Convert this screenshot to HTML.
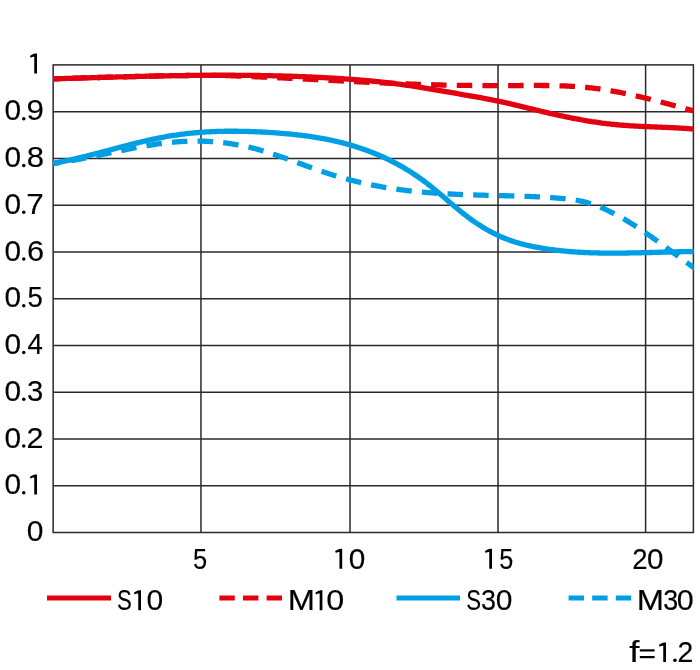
<!DOCTYPE html>
<html><head><meta charset="utf-8"><style>
html,body{margin:0;padding:0;background:#fff;width:700px;height:670px;overflow:hidden}
svg{display:block;will-change:transform}
text{font-family:"Liberation Sans",sans-serif;font-size:29.0px;fill:#000;stroke:#000;stroke-width:0.15px}
</style></head><body>
<svg width="700" height="670" viewBox="0 0 700 670">
<defs><clipPath id="c"><rect x="53.15" y="0" width="640.55" height="670"/></clipPath></defs>
<g stroke="#2a2a2a" stroke-width="1.5" fill="none">
<line x1="200.96" y1="64.90" x2="200.96" y2="532.50"/>
<line x1="350.04" y1="64.90" x2="350.04" y2="532.50"/>
<line x1="498.04" y1="64.90" x2="498.04" y2="532.50"/>
<line x1="645.60" y1="64.90" x2="645.60" y2="532.50"/>
<line x1="53.15" y1="111.66" x2="693.40" y2="111.66"/>
<line x1="53.15" y1="158.42" x2="693.40" y2="158.42"/>
<line x1="53.15" y1="205.18" x2="693.40" y2="205.18"/>
<line x1="53.15" y1="251.94" x2="693.40" y2="251.94"/>
<line x1="53.15" y1="298.70" x2="693.40" y2="298.70"/>
<line x1="53.15" y1="345.46" x2="693.40" y2="345.46"/>
<line x1="53.15" y1="392.22" x2="693.40" y2="392.22"/>
<line x1="53.15" y1="438.98" x2="693.40" y2="438.98"/>
<line x1="53.15" y1="485.74" x2="693.40" y2="485.74"/>
<rect x="53.15" y="64.90" width="640.25" height="467.60" fill="none"/>
</g>
<g fill="none" stroke-width="5.3" clip-path="url(#c)">
<path d="M53.00,163.45 L54.50,163.25 L56.00,163.05 L57.50,162.85 L59.00,162.63 L60.50,162.41 L62.00,162.19 L63.50,161.96 L65.00,161.72 L66.50,161.48 L68.00,161.23 L69.50,160.98 L71.00,160.72 L72.50,160.46 L74.00,160.19 L75.50,159.92 L77.00,159.65 L78.50,159.37 L80.00,159.08 L81.50,158.80 L83.00,158.51 L84.50,158.21 L86.00,157.92 L87.50,157.62 L89.00,157.32 L90.50,157.02 L92.00,156.71 L93.50,156.40 L95.00,156.09 L96.50,155.78 L98.00,155.47 L99.50,155.15 L101.00,154.84 L102.50,154.52 L104.00,154.20 L105.50,153.89 L107.00,153.57 L108.50,153.25 L110.00,152.93 L111.50,152.62 L113.00,152.30 L114.50,151.98 L116.00,151.67 L117.50,151.35 L119.00,151.04 L120.50,150.73 L122.00,150.42 L123.50,150.11 L125.00,149.80 L126.50,149.50 L128.00,149.20 L129.50,148.90 L131.00,148.60 L132.50,148.31 L134.00,148.01 L135.50,147.73 L137.00,147.44 L138.50,147.16 L140.00,146.89 L141.50,146.61 L143.00,146.35 L144.50,146.08 L146.00,145.82 L147.50,145.57 L149.00,145.32 L150.50,145.08 L152.00,144.84 L153.50,144.60 L155.00,144.38 L156.50,144.16 L158.00,143.94 L159.50,143.73 L161.00,143.53 L162.50,143.33 L164.00,143.15 L165.50,142.96 L167.00,142.79 L168.50,142.62 L170.00,142.46 L171.50,142.31 L173.00,142.17 L174.50,142.04 L176.00,141.91 L177.50,141.79 L179.00,141.68 L180.50,141.58 L182.00,141.49 L183.50,141.41 L185.00,141.34 L186.50,141.28 L188.00,141.22 L189.50,141.18 L191.00,141.14 L192.50,141.11 L194.00,141.10 L195.50,141.09 L197.00,141.09 L198.50,141.10 L200.00,141.12 L201.50,141.15 L203.00,141.19 L204.50,141.24 L206.00,141.30 L207.50,141.37 L209.00,141.45 L210.50,141.54 L212.00,141.63 L213.50,141.74 L215.00,141.86 L216.50,141.98 L218.00,142.12 L219.50,142.26 L221.00,142.42 L222.50,142.59 L224.00,142.76 L225.50,142.95 L227.00,143.14 L228.50,143.35 L230.00,143.56 L231.50,143.79 L233.00,144.02 L234.50,144.27 L236.00,144.52 L237.50,144.79 L239.00,145.06 L240.50,145.35 L242.00,145.65 L243.50,145.95 L245.00,146.27 L246.50,146.60 L248.00,146.93 L249.50,147.28 L251.00,147.64 L252.50,148.01 L254.00,148.38 L255.50,148.77 L257.00,149.17 L258.50,149.58 L260.00,150.00 L261.50,150.43 L263.00,150.87 L264.50,151.32 L266.00,151.77 L267.50,152.24 L269.00,152.71 L270.50,153.19 L272.00,153.67 L273.50,154.16 L275.00,154.66 L276.50,155.17 L278.00,155.68 L279.50,156.19 L281.00,156.71 L282.50,157.24 L284.00,157.77 L285.50,158.30 L287.00,158.84 L288.50,159.37 L290.00,159.92 L291.50,160.46 L293.00,161.01 L294.50,161.55 L296.00,162.10 L297.50,162.65 L299.00,163.20 L300.50,163.76 L302.00,164.31 L303.50,164.86 L305.00,165.41 L306.50,165.95 L308.00,166.50 L309.50,167.05 L311.00,167.59 L312.50,168.13 L314.00,168.66 L315.50,169.20 L317.00,169.73 L318.50,170.25 L320.00,170.77 L321.50,171.29 L323.00,171.80 L324.50,172.31 L326.00,172.81 L327.50,173.30 L329.00,173.79 L330.50,174.27 L332.00,174.74 L333.50,175.20 L335.00,175.66 L336.50,176.12 L338.00,176.56 L339.50,177.00 L341.00,177.43 L342.50,177.86 L344.00,178.28 L345.50,178.69 L347.00,179.10 L348.50,179.50 L350.00,179.89 L351.50,180.28 L353.00,180.66 L354.50,181.04 L356.00,181.41 L357.50,181.77 L359.00,182.12 L360.50,182.47 L362.00,182.82 L363.50,183.16 L365.00,183.49 L366.50,183.81 L368.00,184.13 L369.50,184.45 L371.00,184.76 L372.50,185.06 L374.00,185.36 L375.50,185.65 L377.00,185.93 L378.50,186.21 L380.00,186.49 L381.50,186.76 L383.00,187.02 L384.50,187.28 L386.00,187.53 L387.50,187.78 L389.00,188.02 L390.50,188.26 L392.00,188.49 L393.50,188.71 L395.00,188.94 L396.50,189.15 L398.00,189.36 L399.50,189.57 L401.00,189.77 L402.50,189.96 L404.00,190.15 L405.50,190.34 L407.00,190.52 L408.50,190.70 L410.00,190.87 L411.50,191.04 L413.00,191.20 L414.50,191.36 L416.00,191.51 L417.50,191.66 L419.00,191.80 L420.50,191.94 L422.00,192.08 L423.50,192.21 L425.00,192.34 L426.50,192.47 L428.00,192.59 L429.50,192.71 L431.00,192.82 L432.50,192.93 L434.00,193.04 L435.50,193.15 L437.00,193.25 L438.50,193.34 L440.00,193.44 L441.50,193.53 L443.00,193.62 L444.50,193.71 L446.00,193.79 L447.50,193.87 L449.00,193.95 L450.50,194.02 L452.00,194.10 L453.50,194.17 L455.00,194.24 L456.50,194.30 L458.00,194.37 L459.50,194.43 L461.00,194.49 L462.50,194.55 L464.00,194.60 L465.50,194.66 L467.00,194.71 L468.50,194.76 L470.00,194.81 L471.50,194.86 L473.00,194.91 L474.50,194.95 L476.00,195.00 L477.50,195.04 L479.00,195.08 L480.50,195.12 L482.00,195.16 L483.50,195.20 L485.00,195.24 L486.50,195.28 L488.00,195.32 L489.50,195.36 L491.00,195.40 L492.50,195.43 L494.00,195.47 L495.50,195.51 L497.00,195.54 L498.50,195.58 L500.00,195.62 L501.50,195.65 L503.00,195.69 L504.50,195.73 L506.00,195.76 L507.50,195.80 L509.00,195.84 L510.50,195.88 L512.00,195.92 L513.50,195.96 L515.00,196.01 L516.50,196.05 L518.00,196.09 L519.50,196.14 L521.00,196.19 L522.50,196.24 L524.00,196.29 L525.50,196.34 L527.00,196.39 L528.50,196.45 L530.00,196.51 L531.50,196.57 L533.00,196.63 L534.50,196.70 L536.00,196.76 L537.50,196.83 L539.00,196.91 L540.50,196.98 L542.00,197.06 L543.50,197.14 L545.00,197.23 L546.50,197.31 L548.00,197.40 L549.50,197.50 L551.00,197.60 L552.50,197.70 L554.00,197.80 L555.50,197.91 L557.00,198.03 L558.50,198.14 L560.00,198.27 L561.50,198.39 L563.00,198.53 L564.50,198.67 L566.00,198.82 L567.50,198.98 L569.00,199.16 L570.50,199.34 L572.00,199.54 L573.50,199.76 L575.00,199.99 L576.50,200.24 L578.00,200.51 L579.50,200.80 L581.00,201.11 L582.50,201.45 L584.00,201.81 L585.50,202.19 L587.00,202.59 L588.50,203.02 L590.00,203.47 L591.50,203.95 L593.00,204.45 L594.50,204.97 L596.00,205.51 L597.50,206.07 L599.00,206.65 L600.50,207.25 L602.00,207.88 L603.50,208.52 L605.00,209.18 L606.50,209.86 L608.00,210.56 L609.50,211.28 L611.00,212.01 L612.50,212.76 L614.00,213.53 L615.50,214.31 L617.00,215.11 L618.50,215.93 L620.00,216.76 L621.50,217.60 L623.00,218.46 L624.50,219.33 L626.00,220.22 L627.50,221.12 L629.00,222.03 L630.50,222.95 L632.00,223.89 L633.50,224.84 L635.00,225.79 L636.50,226.76 L638.00,227.74 L639.50,228.73 L641.00,229.73 L642.50,230.73 L644.00,231.75 L645.50,232.77 L647.00,233.81 L648.50,234.84 L650.00,235.89 L651.50,236.94 L653.00,238.00 L654.50,239.07 L656.00,240.14 L657.50,241.21 L659.00,242.29 L660.50,243.37 L662.00,244.46 L663.50,245.55 L665.00,246.64 L666.50,247.74 L668.00,248.84 L669.50,249.94 L671.00,251.04 L672.50,252.14 L674.00,253.24 L675.50,254.35 L677.00,255.45 L678.50,256.55 L680.00,257.65 L681.50,258.75 L683.00,259.85 L684.50,260.94 L686.00,262.03 L687.50,263.12 L689.00,264.21 L690.50,265.29 L692.00,266.37 L693.50,267.44 L695.00,268.51 L696.50,269.57 L698.00,270.62 L699.50,271.67" stroke="#009fe3" stroke-dasharray="15.5 10.18" stroke-dashoffset="7.54"/>
<path d="M53.00,163.36 L54.50,163.09 L56.00,162.82 L57.50,162.54 L59.00,162.26 L60.50,161.97 L62.00,161.67 L63.50,161.36 L65.00,161.05 L66.50,160.74 L68.00,160.41 L69.50,160.09 L71.00,159.76 L72.50,159.42 L74.00,159.08 L75.50,158.73 L77.00,158.38 L78.50,158.03 L80.00,157.67 L81.50,157.30 L83.00,156.94 L84.50,156.57 L86.00,156.20 L87.50,155.82 L89.00,155.44 L90.50,155.06 L92.00,154.68 L93.50,154.29 L95.00,153.90 L96.50,153.51 L98.00,153.12 L99.50,152.72 L101.00,152.33 L102.50,151.93 L104.00,151.54 L105.50,151.14 L107.00,150.74 L108.50,150.34 L110.00,149.94 L111.50,149.54 L113.00,149.14 L114.50,148.75 L116.00,148.35 L117.50,147.95 L119.00,147.55 L120.50,147.16 L122.00,146.76 L123.50,146.37 L125.00,145.98 L126.50,145.59 L128.00,145.20 L129.50,144.82 L131.00,144.44 L132.50,144.06 L134.00,143.68 L135.50,143.31 L137.00,142.94 L138.50,142.57 L140.00,142.20 L141.50,141.84 L143.00,141.49 L144.50,141.14 L146.00,140.79 L147.50,140.44 L149.00,140.11 L150.50,139.77 L152.00,139.44 L153.50,139.12 L155.00,138.80 L156.50,138.49 L158.00,138.18 L159.50,137.88 L161.00,137.59 L162.50,137.30 L164.00,137.02 L165.50,136.74 L167.00,136.48 L168.50,136.22 L170.00,135.96 L171.50,135.72 L173.00,135.48 L174.50,135.25 L176.00,135.02 L177.50,134.81 L179.00,134.60 L180.50,134.40 L182.00,134.20 L183.50,134.01 L185.00,133.83 L186.50,133.66 L188.00,133.49 L189.50,133.33 L191.00,133.17 L192.50,133.02 L194.00,132.88 L195.50,132.75 L197.00,132.62 L198.50,132.50 L200.00,132.38 L201.50,132.27 L203.00,132.17 L204.50,132.07 L206.00,131.97 L207.50,131.89 L209.00,131.81 L210.50,131.73 L212.00,131.66 L213.50,131.60 L215.00,131.54 L216.50,131.48 L218.00,131.44 L219.50,131.39 L221.00,131.36 L222.50,131.32 L224.00,131.30 L225.50,131.27 L227.00,131.25 L228.50,131.24 L230.00,131.23 L231.50,131.23 L233.00,131.23 L234.50,131.24 L236.00,131.25 L237.50,131.26 L239.00,131.28 L240.50,131.30 L242.00,131.33 L243.50,131.36 L245.00,131.39 L246.50,131.43 L248.00,131.48 L249.50,131.52 L251.00,131.57 L252.50,131.63 L254.00,131.69 L255.50,131.75 L257.00,131.81 L258.50,131.88 L260.00,131.95 L261.50,132.02 L263.00,132.10 L264.50,132.18 L266.00,132.27 L267.50,132.35 L269.00,132.44 L270.50,132.54 L272.00,132.63 L273.50,132.73 L275.00,132.83 L276.50,132.94 L278.00,133.05 L279.50,133.16 L281.00,133.28 L282.50,133.40 L284.00,133.52 L285.50,133.65 L287.00,133.78 L288.50,133.92 L290.00,134.06 L291.50,134.21 L293.00,134.36 L294.50,134.52 L296.00,134.68 L297.50,134.84 L299.00,135.02 L300.50,135.19 L302.00,135.38 L303.50,135.57 L305.00,135.76 L306.50,135.96 L308.00,136.17 L309.50,136.38 L311.00,136.60 L312.50,136.83 L314.00,137.06 L315.50,137.30 L317.00,137.54 L318.50,137.80 L320.00,138.06 L321.50,138.32 L323.00,138.60 L324.50,138.88 L326.00,139.17 L327.50,139.47 L329.00,139.77 L330.50,140.08 L332.00,140.40 L333.50,140.73 L335.00,141.07 L336.50,141.42 L338.00,141.77 L339.50,142.13 L341.00,142.51 L342.50,142.89 L344.00,143.28 L345.50,143.68 L347.00,144.09 L348.50,144.50 L350.00,144.93 L351.50,145.37 L353.00,145.82 L354.50,146.27 L356.00,146.74 L357.50,147.22 L359.00,147.71 L360.50,148.21 L362.00,148.72 L363.50,149.24 L365.00,149.77 L366.50,150.31 L368.00,150.86 L369.50,151.42 L371.00,152.00 L372.50,152.59 L374.00,153.19 L375.50,153.80 L377.00,154.42 L378.50,155.05 L380.00,155.70 L381.50,156.36 L383.00,157.03 L384.50,157.71 L386.00,158.41 L387.50,159.12 L389.00,159.85 L390.50,160.59 L392.00,161.34 L393.50,162.11 L395.00,162.89 L396.50,163.69 L398.00,164.50 L399.50,165.32 L401.00,166.16 L402.50,167.02 L404.00,167.89 L405.50,168.78 L407.00,169.69 L408.50,170.61 L410.00,171.55 L411.50,172.50 L413.00,173.47 L414.50,174.46 L416.00,175.46 L417.50,176.49 L419.00,177.53 L420.50,178.59 L422.00,179.66 L423.50,180.76 L425.00,181.87 L426.50,183.01 L428.00,184.16 L429.50,185.33 L431.00,186.52 L432.50,187.73 L434.00,188.95 L435.50,190.19 L437.00,191.44 L438.50,192.70 L440.00,193.97 L441.50,195.24 L443.00,196.53 L444.50,197.81 L446.00,199.10 L447.50,200.39 L449.00,201.68 L450.50,202.96 L452.00,204.24 L453.50,205.52 L455.00,206.78 L456.50,208.04 L458.00,209.28 L459.50,210.51 L461.00,211.73 L462.50,212.93 L464.00,214.11 L465.50,215.28 L467.00,216.42 L468.50,217.54 L470.00,218.65 L471.50,219.73 L473.00,220.79 L474.50,221.83 L476.00,222.86 L477.50,223.86 L479.00,224.84 L480.50,225.80 L482.00,226.74 L483.50,227.66 L485.00,228.55 L486.50,229.43 L488.00,230.28 L489.50,231.11 L491.00,231.92 L492.50,232.71 L494.00,233.48 L495.50,234.22 L497.00,234.95 L498.50,235.64 L500.00,236.32 L501.50,236.98 L503.00,237.61 L504.50,238.22 L506.00,238.82 L507.50,239.39 L509.00,239.94 L510.50,240.48 L512.00,240.99 L513.50,241.49 L515.00,241.97 L516.50,242.43 L518.00,242.88 L519.50,243.31 L521.00,243.73 L522.50,244.13 L524.00,244.51 L525.50,244.89 L527.00,245.24 L528.50,245.59 L530.00,245.92 L531.50,246.24 L533.00,246.55 L534.50,246.85 L536.00,247.14 L537.50,247.42 L539.00,247.68 L540.50,247.94 L542.00,248.19 L543.50,248.44 L545.00,248.67 L546.50,248.90 L548.00,249.12 L549.50,249.33 L551.00,249.54 L552.50,249.73 L554.00,249.93 L555.50,250.11 L557.00,250.29 L558.50,250.46 L560.00,250.63 L561.50,250.79 L563.00,250.94 L564.50,251.09 L566.00,251.23 L567.50,251.36 L569.00,251.49 L570.50,251.62 L572.00,251.74 L573.50,251.85 L575.00,251.95 L576.50,252.06 L578.00,252.15 L579.50,252.24 L581.00,252.33 L582.50,252.41 L584.00,252.49 L585.50,252.56 L587.00,252.62 L588.50,252.69 L590.00,252.74 L591.50,252.80 L593.00,252.85 L594.50,252.89 L596.00,252.93 L597.50,252.97 L599.00,253.00 L600.50,253.03 L602.00,253.06 L603.50,253.08 L605.00,253.10 L606.50,253.11 L608.00,253.13 L609.50,253.13 L611.00,253.14 L612.50,253.14 L614.00,253.14 L615.50,253.14 L617.00,253.13 L618.50,253.12 L620.00,253.11 L621.50,253.10 L623.00,253.08 L624.50,253.07 L626.00,253.05 L627.50,253.02 L629.00,253.00 L630.50,252.97 L632.00,252.95 L633.50,252.92 L635.00,252.89 L636.50,252.85 L638.00,252.82 L639.50,252.79 L641.00,252.75 L642.50,252.71 L644.00,252.67 L645.50,252.64 L647.00,252.60 L648.50,252.56 L650.00,252.52 L651.50,252.48 L653.00,252.43 L654.50,252.39 L656.00,252.35 L657.50,252.31 L659.00,252.27 L660.50,252.23 L662.00,252.18 L663.50,252.14 L665.00,252.10 L666.50,252.06 L668.00,252.02 L669.50,251.98 L671.00,251.95 L672.50,251.91 L674.00,251.87 L675.50,251.84 L677.00,251.80 L678.50,251.77 L680.00,251.74 L681.50,251.71 L683.00,251.68 L684.50,251.66 L686.00,251.63 L687.50,251.61 L689.00,251.59 L690.50,251.57 L692.00,251.56 L693.50,251.54 L695.00,251.53 L696.50,251.52 L698.00,251.52 L699.50,251.51" stroke="#009fe3"/>
<path d="M53.00,78.86 L54.50,78.82 L56.00,78.77 L57.50,78.73 L59.00,78.68 L60.50,78.64 L62.00,78.59 L63.50,78.55 L65.00,78.50 L66.50,78.46 L68.00,78.41 L69.50,78.37 L71.00,78.32 L72.50,78.28 L74.00,78.23 L75.50,78.19 L77.00,78.14 L78.50,78.10 L80.00,78.05 L81.50,78.01 L83.00,77.96 L84.50,77.92 L86.00,77.87 L87.50,77.83 L89.00,77.78 L90.50,77.74 L92.00,77.70 L93.50,77.65 L95.00,77.61 L96.50,77.56 L98.00,77.52 L99.50,77.48 L101.00,77.43 L102.50,77.39 L104.00,77.35 L105.50,77.30 L107.00,77.26 L108.50,77.22 L110.00,77.18 L111.50,77.13 L113.00,77.09 L114.50,77.05 L116.00,77.01 L117.50,76.97 L119.00,76.93 L120.50,76.89 L122.00,76.85 L123.50,76.81 L125.00,76.77 L126.50,76.73 L128.00,76.69 L129.50,76.65 L131.00,76.61 L132.50,76.57 L134.00,76.54 L135.50,76.50 L137.00,76.46 L138.50,76.42 L140.00,76.39 L141.50,76.35 L143.00,76.32 L144.50,76.28 L146.00,76.25 L147.50,76.21 L149.00,76.18 L150.50,76.15 L152.00,76.11 L153.50,76.08 L155.00,76.05 L156.50,76.02 L158.00,75.99 L159.50,75.96 L161.00,75.93 L162.50,75.90 L164.00,75.87 L165.50,75.84 L167.00,75.81 L168.50,75.79 L170.00,75.76 L171.50,75.73 L173.00,75.71 L174.50,75.68 L176.00,75.66 L177.50,75.64 L179.00,75.61 L180.50,75.59 L182.00,75.57 L183.50,75.55 L185.00,75.53 L186.50,75.51 L188.00,75.49 L189.50,75.47 L191.00,75.45 L192.50,75.43 L194.00,75.42 L195.50,75.40 L197.00,75.39 L198.50,75.37 L200.00,75.36 L201.50,75.35 L203.00,75.34 L204.50,75.33 L206.00,75.33 L207.50,75.33 L209.00,75.33 L210.50,75.33 L212.00,75.34 L213.50,75.35 L215.00,75.36 L216.50,75.38 L218.00,75.40 L219.50,75.43 L221.00,75.46 L222.50,75.49 L224.00,75.53 L225.50,75.57 L227.00,75.62 L228.50,75.67 L230.00,75.72 L231.50,75.78 L233.00,75.83 L234.50,75.89 L236.00,75.96 L237.50,76.02 L239.00,76.09 L240.50,76.16 L242.00,76.22 L243.50,76.29 L245.00,76.36 L246.50,76.42 L248.00,76.48 L249.50,76.54 L251.00,76.60 L252.50,76.65 L254.00,76.71 L255.50,76.77 L257.00,76.83 L258.50,76.89 L260.00,76.95 L261.50,77.01 L263.00,77.08 L264.50,77.14 L266.00,77.20 L267.50,77.27 L269.00,77.33 L270.50,77.40 L272.00,77.47 L273.50,77.54 L275.00,77.61 L276.50,77.67 L278.00,77.74 L279.50,77.81 L281.00,77.89 L282.50,77.96 L284.00,78.03 L285.50,78.10 L287.00,78.17 L288.50,78.25 L290.00,78.32 L291.50,78.39 L293.00,78.47 L294.50,78.54 L296.00,78.62 L297.50,78.69 L299.00,78.77 L300.50,78.84 L302.00,78.92 L303.50,79.00 L305.00,79.07 L306.50,79.15 L308.00,79.22 L309.50,79.30 L311.00,79.38 L312.50,79.45 L314.00,79.53 L315.50,79.61 L317.00,79.69 L318.50,79.76 L320.00,79.84 L321.50,79.92 L323.00,80.00 L324.50,80.07 L326.00,80.15 L327.50,80.23 L329.00,80.30 L330.50,80.38 L332.00,80.46 L333.50,80.54 L335.00,80.61 L336.50,80.69 L338.00,80.77 L339.50,80.84 L341.00,80.92 L342.50,81.00 L344.00,81.07 L345.50,81.15 L347.00,81.22 L348.50,81.30 L350.00,81.38 L351.50,81.45 L353.00,81.53 L354.50,81.60 L356.00,81.67 L357.50,81.75 L359.00,81.82 L360.50,81.90 L362.00,81.97 L363.50,82.04 L365.00,82.11 L366.50,82.19 L368.00,82.26 L369.50,82.33 L371.00,82.40 L372.50,82.47 L374.00,82.54 L375.50,82.61 L377.00,82.68 L378.50,82.75 L380.00,82.81 L381.50,82.88 L383.00,82.95 L384.50,83.01 L386.00,83.08 L387.50,83.15 L389.00,83.21 L390.50,83.27 L392.00,83.34 L393.50,83.40 L395.00,83.46 L396.50,83.52 L398.00,83.58 L399.50,83.64 L401.00,83.70 L402.50,83.76 L404.00,83.82 L405.50,83.88 L407.00,83.93 L408.50,83.99 L410.00,84.05 L411.50,84.10 L413.00,84.15 L414.50,84.20 L416.00,84.26 L417.50,84.31 L419.00,84.36 L420.50,84.41 L422.00,84.45 L423.50,84.50 L425.00,84.55 L426.50,84.59 L428.00,84.64 L429.50,84.68 L431.00,84.72 L432.50,84.76 L434.00,84.81 L435.50,84.84 L437.00,84.88 L438.50,84.92 L440.00,84.96 L441.50,84.99 L443.00,85.03 L444.50,85.06 L446.00,85.09 L447.50,85.12 L449.00,85.15 L450.50,85.18 L452.00,85.21 L453.50,85.24 L455.00,85.26 L456.50,85.29 L458.00,85.31 L459.50,85.34 L461.00,85.36 L462.50,85.38 L464.00,85.40 L465.50,85.42 L467.00,85.44 L468.50,85.45 L470.00,85.47 L471.50,85.49 L473.00,85.50 L474.50,85.51 L476.00,85.53 L477.50,85.54 L479.00,85.55 L480.50,85.56 L482.00,85.57 L483.50,85.58 L485.00,85.58 L486.50,85.59 L488.00,85.60 L489.50,85.60 L491.00,85.61 L492.50,85.61 L494.00,85.61 L495.50,85.61 L497.00,85.61 L498.50,85.61 L500.00,85.61 L501.50,85.61 L503.00,85.61 L504.50,85.60 L506.00,85.60 L507.50,85.59 L509.00,85.59 L510.50,85.58 L512.00,85.57 L513.50,85.57 L515.00,85.56 L516.50,85.55 L518.00,85.54 L519.50,85.53 L521.00,85.52 L522.50,85.51 L524.00,85.50 L525.50,85.49 L527.00,85.49 L528.50,85.48 L530.00,85.47 L531.50,85.47 L533.00,85.46 L534.50,85.46 L536.00,85.46 L537.50,85.46 L539.00,85.47 L540.50,85.47 L542.00,85.48 L543.50,85.49 L545.00,85.50 L546.50,85.52 L548.00,85.53 L549.50,85.55 L551.00,85.58 L552.50,85.60 L554.00,85.64 L555.50,85.67 L557.00,85.71 L558.50,85.75 L560.00,85.80 L561.50,85.85 L563.00,85.90 L564.50,85.96 L566.00,86.02 L567.50,86.09 L569.00,86.16 L570.50,86.24 L572.00,86.33 L573.50,86.42 L575.00,86.51 L576.50,86.61 L578.00,86.72 L579.50,86.83 L581.00,86.95 L582.50,87.08 L584.00,87.21 L585.50,87.35 L587.00,87.49 L588.50,87.64 L590.00,87.80 L591.50,87.97 L593.00,88.14 L594.50,88.33 L596.00,88.51 L597.50,88.71 L599.00,88.91 L600.50,89.12 L602.00,89.34 L603.50,89.57 L605.00,89.80 L606.50,90.03 L608.00,90.28 L609.50,90.53 L611.00,90.78 L612.50,91.04 L614.00,91.31 L615.50,91.59 L617.00,91.87 L618.50,92.15 L620.00,92.44 L621.50,92.74 L623.00,93.04 L624.50,93.34 L626.00,93.66 L627.50,93.97 L629.00,94.29 L630.50,94.62 L632.00,94.95 L633.50,95.28 L635.00,95.62 L636.50,95.96 L638.00,96.31 L639.50,96.66 L641.00,97.01 L642.50,97.37 L644.00,97.73 L645.50,98.10 L647.00,98.46 L648.50,98.83 L650.00,99.21 L651.50,99.59 L653.00,99.97 L654.50,100.35 L656.00,100.73 L657.50,101.12 L659.00,101.51 L660.50,101.90 L662.00,102.30 L663.50,102.69 L665.00,103.09 L666.50,103.49 L668.00,103.89 L669.50,104.29 L671.00,104.70 L672.50,105.10 L674.00,105.51 L675.50,105.92 L677.00,106.33 L678.50,106.73 L680.00,107.14 L681.50,107.55 L683.00,107.96 L684.50,108.37 L686.00,108.78 L687.50,109.19 L689.00,109.60 L690.50,110.01 L692.00,110.41 L693.50,110.82 L695.00,111.23 L696.50,111.63 L698.00,112.03 L699.50,112.44" stroke="#e3000f" stroke-dasharray="15.5 10.18" stroke-dashoffset="6.85"/>
<path d="M53.00,78.86 L54.50,78.82 L56.00,78.77 L57.50,78.73 L59.00,78.68 L60.50,78.64 L62.00,78.59 L63.50,78.55 L65.00,78.50 L66.50,78.46 L68.00,78.41 L69.50,78.37 L71.00,78.32 L72.50,78.28 L74.00,78.23 L75.50,78.19 L77.00,78.14 L78.50,78.10 L80.00,78.05 L81.50,78.01 L83.00,77.96 L84.50,77.92 L86.00,77.87 L87.50,77.83 L89.00,77.78 L90.50,77.74 L92.00,77.70 L93.50,77.65 L95.00,77.61 L96.50,77.56 L98.00,77.52 L99.50,77.48 L101.00,77.43 L102.50,77.39 L104.00,77.35 L105.50,77.30 L107.00,77.26 L108.50,77.22 L110.00,77.18 L111.50,77.13 L113.00,77.09 L114.50,77.05 L116.00,77.01 L117.50,76.97 L119.00,76.93 L120.50,76.89 L122.00,76.85 L123.50,76.81 L125.00,76.77 L126.50,76.73 L128.00,76.69 L129.50,76.65 L131.00,76.61 L132.50,76.57 L134.00,76.54 L135.50,76.50 L137.00,76.46 L138.50,76.42 L140.00,76.39 L141.50,76.35 L143.00,76.32 L144.50,76.28 L146.00,76.25 L147.50,76.21 L149.00,76.18 L150.50,76.15 L152.00,76.11 L153.50,76.08 L155.00,76.05 L156.50,76.02 L158.00,75.99 L159.50,75.96 L161.00,75.93 L162.50,75.90 L164.00,75.87 L165.50,75.84 L167.00,75.81 L168.50,75.79 L170.00,75.76 L171.50,75.73 L173.00,75.71 L174.50,75.68 L176.00,75.66 L177.50,75.64 L179.00,75.61 L180.50,75.59 L182.00,75.57 L183.50,75.55 L185.00,75.53 L186.50,75.51 L188.00,75.49 L189.50,75.47 L191.00,75.45 L192.50,75.43 L194.00,75.42 L195.50,75.40 L197.00,75.39 L198.50,75.37 L200.00,75.36 L201.50,75.35 L203.00,75.33 L204.50,75.32 L206.00,75.31 L207.50,75.30 L209.00,75.29 L210.50,75.29 L212.00,75.28 L213.50,75.27 L215.00,75.27 L216.50,75.26 L218.00,75.26 L219.50,75.25 L221.00,75.25 L222.50,75.25 L224.00,75.25 L225.50,75.25 L227.00,75.25 L228.50,75.25 L230.00,75.26 L231.50,75.26 L233.00,75.26 L234.50,75.27 L236.00,75.28 L237.50,75.29 L239.00,75.29 L240.50,75.30 L242.00,75.31 L243.50,75.33 L245.00,75.34 L246.50,75.35 L248.00,75.37 L249.50,75.38 L251.00,75.40 L252.50,75.42 L254.00,75.44 L255.50,75.45 L257.00,75.48 L258.50,75.50 L260.00,75.52 L261.50,75.55 L263.00,75.57 L264.50,75.60 L266.00,75.62 L267.50,75.65 L269.00,75.68 L270.50,75.71 L272.00,75.75 L273.50,75.78 L275.00,75.81 L276.50,75.85 L278.00,75.89 L279.50,75.92 L281.00,75.96 L282.50,76.00 L284.00,76.04 L285.50,76.09 L287.00,76.13 L288.50,76.18 L290.00,76.22 L291.50,76.27 L293.00,76.32 L294.50,76.37 L296.00,76.42 L297.50,76.47 L299.00,76.53 L300.50,76.58 L302.00,76.64 L303.50,76.70 L305.00,76.76 L306.50,76.82 L308.00,76.88 L309.50,76.95 L311.00,77.01 L312.50,77.08 L314.00,77.15 L315.50,77.22 L317.00,77.29 L318.50,77.36 L320.00,77.43 L321.50,77.51 L323.00,77.58 L324.50,77.66 L326.00,77.74 L327.50,77.82 L329.00,77.90 L330.50,77.99 L332.00,78.07 L333.50,78.16 L335.00,78.25 L336.50,78.34 L338.00,78.43 L339.50,78.52 L341.00,78.62 L342.50,78.72 L344.00,78.81 L345.50,78.92 L347.00,79.02 L348.50,79.12 L350.00,79.23 L351.50,79.34 L353.00,79.45 L354.50,79.56 L356.00,79.68 L357.50,79.80 L359.00,79.92 L360.50,80.04 L362.00,80.16 L363.50,80.29 L365.00,80.42 L366.50,80.56 L368.00,80.69 L369.50,80.83 L371.00,80.97 L372.50,81.11 L374.00,81.26 L375.50,81.41 L377.00,81.56 L378.50,81.72 L380.00,81.87 L381.50,82.03 L383.00,82.20 L384.50,82.37 L386.00,82.54 L387.50,82.71 L389.00,82.89 L390.50,83.07 L392.00,83.25 L393.50,83.44 L395.00,83.63 L396.50,83.82 L398.00,84.02 L399.50,84.22 L401.00,84.43 L402.50,84.63 L404.00,84.84 L405.50,85.06 L407.00,85.27 L408.50,85.49 L410.00,85.72 L411.50,85.94 L413.00,86.17 L414.50,86.40 L416.00,86.63 L417.50,86.86 L419.00,87.10 L420.50,87.34 L422.00,87.58 L423.50,87.82 L425.00,88.07 L426.50,88.31 L428.00,88.56 L429.50,88.81 L431.00,89.06 L432.50,89.31 L434.00,89.57 L435.50,89.82 L437.00,90.08 L438.50,90.34 L440.00,90.60 L441.50,90.86 L443.00,91.12 L444.50,91.38 L446.00,91.64 L447.50,91.90 L449.00,92.16 L450.50,92.43 L452.00,92.69 L453.50,92.95 L455.00,93.22 L456.50,93.48 L458.00,93.74 L459.50,94.01 L461.00,94.27 L462.50,94.53 L464.00,94.80 L465.50,95.06 L467.00,95.32 L468.50,95.58 L470.00,95.84 L471.50,96.11 L473.00,96.37 L474.50,96.63 L476.00,96.90 L477.50,97.17 L479.00,97.44 L480.50,97.71 L482.00,97.98 L483.50,98.26 L485.00,98.54 L486.50,98.82 L488.00,99.11 L489.50,99.39 L491.00,99.69 L492.50,99.98 L494.00,100.28 L495.50,100.59 L497.00,100.90 L498.50,101.21 L500.00,101.53 L501.50,101.86 L503.00,102.19 L504.50,102.52 L506.00,102.86 L507.50,103.20 L509.00,103.54 L510.50,103.89 L512.00,104.24 L513.50,104.59 L515.00,104.95 L516.50,105.31 L518.00,105.67 L519.50,106.03 L521.00,106.39 L522.50,106.75 L524.00,107.12 L525.50,107.48 L527.00,107.85 L528.50,108.21 L530.00,108.58 L531.50,108.94 L533.00,109.31 L534.50,109.67 L536.00,110.03 L537.50,110.39 L539.00,110.75 L540.50,111.11 L542.00,111.46 L543.50,111.81 L545.00,112.17 L546.50,112.51 L548.00,112.86 L549.50,113.21 L551.00,113.55 L552.50,113.89 L554.00,114.22 L555.50,114.56 L557.00,114.89 L558.50,115.22 L560.00,115.55 L561.50,115.87 L563.00,116.19 L564.50,116.50 L566.00,116.82 L567.50,117.13 L569.00,117.43 L570.50,117.73 L572.00,118.03 L573.50,118.33 L575.00,118.62 L576.50,118.90 L578.00,119.19 L579.50,119.47 L581.00,119.74 L582.50,120.01 L584.00,120.27 L585.50,120.53 L587.00,120.79 L588.50,121.04 L590.00,121.29 L591.50,121.53 L593.00,121.76 L594.50,121.99 L596.00,122.22 L597.50,122.44 L599.00,122.65 L600.50,122.86 L602.00,123.06 L603.50,123.26 L605.00,123.45 L606.50,123.63 L608.00,123.81 L609.50,123.99 L611.00,124.15 L612.50,124.31 L614.00,124.47 L615.50,124.61 L617.00,124.75 L618.50,124.89 L620.00,125.02 L621.50,125.14 L623.00,125.26 L624.50,125.37 L626.00,125.48 L627.50,125.59 L629.00,125.69 L630.50,125.78 L632.00,125.87 L633.50,125.96 L635.00,126.05 L636.50,126.13 L638.00,126.21 L639.50,126.28 L641.00,126.36 L642.50,126.43 L644.00,126.49 L645.50,126.56 L647.00,126.63 L648.50,126.69 L650.00,126.75 L651.50,126.81 L653.00,126.87 L654.50,126.93 L656.00,126.99 L657.50,127.05 L659.00,127.11 L660.50,127.17 L662.00,127.23 L663.50,127.29 L665.00,127.36 L666.50,127.42 L668.00,127.48 L669.50,127.55 L671.00,127.62 L672.50,127.69 L674.00,127.76 L675.50,127.84 L677.00,127.92 L678.50,128.00 L680.00,128.08 L681.50,128.17 L683.00,128.27 L684.50,128.36 L686.00,128.46 L687.50,128.57 L689.00,128.68 L690.50,128.79 L692.00,128.91 L693.50,129.03 L695.00,129.16 L696.50,129.30 L698.00,129.44 L699.50,129.59" stroke="#e3000f"/>
</g>
<text transform="translate(4.57,120.36) scale(1.0288,1.0000)">0</text>
<text transform="translate(26.49,120.36) scale(1.0821,1.0000)">9</text>
<text transform="translate(4.57,167.12) scale(1.0288,1.0000)">0</text>
<text transform="translate(26.80,167.12) scale(1.0735,1.0000)">8</text>
<text transform="translate(4.57,213.88) scale(1.0288,1.0000)">0</text>
<text transform="translate(26.18,213.88) scale(1.0833,1.0000)">7</text>
<text transform="translate(4.57,260.64) scale(1.0288,1.0000)">0</text>
<text transform="translate(27.01,260.64) scale(1.0597,1.0000)">6</text>
<text transform="translate(4.57,307.40) scale(1.0288,1.0000)">0</text>
<text transform="translate(27.46,307.40) scale(0.9489,1.0000)">5</text>
<text transform="translate(4.57,354.16) scale(1.0288,1.0000)">0</text>
<text transform="translate(27.53,354.16) scale(0.9521,1.0000)">4</text>
<text transform="translate(4.57,400.92) scale(1.0288,1.0000)">0</text>
<text transform="translate(26.89,400.92) scale(1.0072,1.0000)">3</text>
<text transform="translate(4.57,447.68) scale(1.0288,1.0000)">0</text>
<text transform="translate(26.42,447.68) scale(1.0530,1.0000)">2</text>
<text transform="translate(4.57,494.44) scale(1.0288,1.0000)">0</text>
<text transform="translate(26.76,541.20) scale(1.0360,1.0000)">0</text>
<text transform="translate(193.05,568.80) scale(0.8759,1.0000)">5</text>
<text transform="translate(348.87,568.80) scale(1.0288,1.0000)">0</text>
<text transform="translate(499.36,568.80) scale(0.8686,1.0000)">5</text>
<text transform="translate(632.28,568.80) scale(0.9470,1.0000)">2</text>
<text transform="translate(646.98,568.80) scale(1.0216,1.0000)">0</text>
<text transform="translate(117.00,610.30) scale(0.7665,1.0000)">S</text>
<text transform="translate(146.46,610.30) scale(1.0360,1.0000)">0</text>
<text transform="translate(287.79,610.30) scale(1.1289,1.0000)">M</text>
<text transform="translate(326.27,610.30) scale(1.1151,1.0000)">0</text>
<text transform="translate(466.20,610.30) scale(0.7665,1.0000)">S</text>
<text transform="translate(480.98,610.30) scale(0.9275,1.0000)">3</text>
<text transform="translate(495.66,610.30) scale(1.0360,1.0000)">0</text>
<text transform="translate(636.79,610.30) scale(1.1289,1.0000)">M</text>
<text transform="translate(663.18,610.30) scale(0.9275,1.0000)">3</text>
<text transform="translate(676.74,610.30) scale(1.0504,1.0000)">0</text>
<text transform="translate(629.20,661.90) scale(1.2597,1.0000)">f</text>
<text transform="translate(677.53,661.90) scale(0.9773,1.0000)">2</text>
<g fill="#000">
<path d="M37.00,53.60 L37.00,73.60 L34.25,73.60 L34.25,56.90 C33.35,56.50 32.00,57.10 30.70,57.80 L29.90,55.90 C32.00,54.60 33.60,53.60 35.40,53.60 Z"/>
<circle cx="23.75" cy="118.71" r="1.75"/>
<circle cx="23.75" cy="165.47" r="1.75"/>
<circle cx="23.75" cy="212.23" r="1.75"/>
<circle cx="23.75" cy="258.99" r="1.75"/>
<circle cx="23.75" cy="305.75" r="1.75"/>
<circle cx="23.75" cy="352.51" r="1.75"/>
<circle cx="23.75" cy="399.27" r="1.75"/>
<circle cx="23.75" cy="446.03" r="1.75"/>
<circle cx="23.75" cy="492.79" r="1.75"/>
<path d="M37.00,474.44 L37.00,494.44 L34.25,494.44 L34.25,477.74 C33.35,477.34 32.00,477.94 30.70,478.64 L29.90,476.74 C32.00,475.44 33.60,474.44 35.40,474.44 Z"/>
<path d="M342.20,548.80 L342.20,568.80 L339.45,568.80 L339.45,552.10 C338.55,551.70 337.20,552.30 335.90,553.00 L335.10,551.10 C337.20,549.80 338.80,548.80 340.60,548.80 Z"/>
<path d="M492.00,548.80 L492.00,568.80 L489.25,568.80 L489.25,552.10 C488.35,551.70 487.00,552.30 485.70,553.00 L484.90,551.10 C487.00,549.80 488.60,548.80 490.40,548.80 Z"/>
<path d="M141.00,590.30 L141.00,610.30 L138.25,610.30 L138.25,593.60 C137.35,593.20 136.00,593.80 134.70,594.50 L133.90,592.60 C136.00,591.30 137.60,590.30 139.40,590.30 Z"/>
<path d="M322.40,590.30 L322.40,610.30 L319.65,610.30 L319.65,593.60 C318.75,593.20 317.40,593.80 316.10,594.50 L315.30,592.60 C317.40,591.30 319.00,590.30 320.80,590.30 Z"/>
<rect x="639.8" y="649.3" width="14.8" height="2.2"/><rect x="639.8" y="656.0" width="14.8" height="2.2"/>
<path d="M666.00,642.50 L666.00,661.90 L663.25,661.90 L663.25,645.80 C662.35,645.40 661.00,646.00 659.70,646.70 L658.90,644.80 C661.00,643.50 662.60,642.50 664.40,642.50 Z"/>
<circle cx="674.95" cy="660.25" r="1.75"/>
</g>
<g stroke-width="5.2">
<line x1="47" y1="598" x2="111" y2="598" stroke="#e3000f"/>
<line x1="219.4" y1="598" x2="282.7" y2="598" stroke="#e3000f" stroke-dasharray="15.4 8.2"/>
<line x1="396.5" y1="598" x2="460" y2="598" stroke="#009fe3"/>
<line x1="568.6" y1="598" x2="631.9" y2="598" stroke="#009fe3" stroke-dasharray="15.4 8.2"/>
</g>
</svg>
</body></html>
